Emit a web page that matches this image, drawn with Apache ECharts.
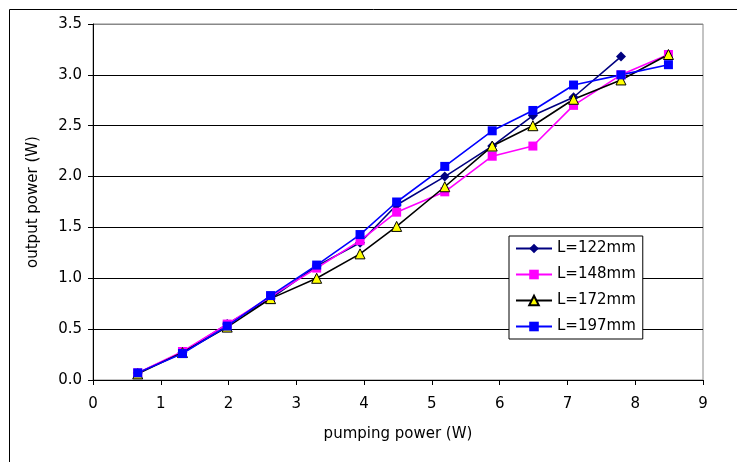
<!DOCTYPE html>
<html><head><meta charset="utf-8">
<script src="https://cdn.jsdelivr.net/npm/echarts@6/dist/echarts.min.js"></script>
<style>html,body{margin:0;padding:0;background:#fff}#c{width:737px;height:462px}</style>
</head><body><div id="c"></div>
<script>
const xPump = [0.66, 1.32, 1.98, 2.62, 3.30, 3.94, 4.48, 5.19, 5.89, 6.49, 7.09, 7.79, 8.49];
const seriesNames = ['L=122mm', 'L=148mm', 'L=172mm', 'L=197mm'];
const outL122 = [0.07, 0.27, 0.55, 0.80, 1.12, 1.35, 1.72, 2.00, 2.30, 2.60, 2.78, 3.18];
const outL148 = [0.07, 0.28, 0.55, 0.82, 1.10, 1.37, 1.65, 1.85, 2.20, 2.30, 2.70, 3.00, 3.20];
const outL172 = [0.06, 0.27, 0.52, 0.80, 1.00, 1.24, 1.51, 1.90, 2.30, 2.50, 2.76, 2.95, 3.20];
const outL197 = [0.07, 0.26, 0.53, 0.83, 1.13, 1.43, 1.75, 2.10, 2.45, 2.65, 2.90, 3.00, 3.10];

const pair = arr => arr.map((v, i) => [xPump[i], v]);
const font = 'DejaVu Sans, Liberation Sans, sans-serif';
const chart = echarts.init(document.getElementById('c'));
const mk = (name, data, lineColor, symbol, fill, border, size) => ({
  name, type: 'line', data: pair(data), symbol, symbolSize: size,
  lineStyle: { color: lineColor, width: 1.6 },
  itemStyle: { color: fill, borderColor: border, borderWidth: border === fill ? 0 : 1 },
  animation: false
});
chart.setOption({
  animation: false,
  backgroundColor: '#fff',
  graphic: [{ type: 'rect', shape: { x: 9.5, y: 9.5, width: 760, height: 480 },
    style: { fill: 'none', stroke: '#000', lineWidth: 1 }, z: 0 }],
  grid: { left: 93, right: 34, top: 24, bottom: 82, show: true, borderColor: '#888', borderWidth: 1 },
  legend: {
    orient: 'vertical', left: 509, top: 236,
    data: seriesNames,
    borderColor: '#000', borderWidth: 1, padding: [5, 7, 5, 6],
    itemWidth: 36, itemHeight: 12, itemGap: 11,
    textStyle: { fontFamily: font, fontSize: 15, color: '#000' },
    backgroundColor: '#fff'
  },
  xAxis: {
    type: 'value', min: 0, max: 9, interval: 1,
    name: 'pumping power (W)', nameLocation: 'middle', nameGap: 47,
    nameTextStyle: { fontFamily: font, fontSize: 15, color: '#000' },
    axisLine: { lineStyle: { color: '#000', width: 1 } },
    axisTick: { show: true, length: 5, lineStyle: { color: '#000' } },
    axisLabel: { fontFamily: font, fontSize: 15, color: '#000', margin: 17 },
    splitLine: { show: false }
  },
  yAxis: {
    type: 'value', min: 0, max: 3.5, interval: 0.5,
    name: 'output power (W)', nameLocation: 'middle', nameGap: 52,
    nameTextStyle: { fontFamily: font, fontSize: 15, color: '#000' },
    axisLine: { show: true, lineStyle: { color: '#000', width: 1 } },
    axisTick: { show: true, length: 5, lineStyle: { color: '#000' } },
    axisLabel: { fontFamily: font, fontSize: 15, color: '#000', margin: 11,
      formatter: v => v.toFixed(1) },
    splitLine: { show: true, lineStyle: { color: ['#000','#000','#000','#000','#000','#000','#000','#888'], width: 1 } }
  },
  series: [
    mk(seriesNames[0], outL122, '#000080', 'diamond', '#000080', '#000080', 10),
    mk(seriesNames[1], outL148, '#ff00ff', 'rect', '#ff00ff', '#ff00ff', 9),
    mk(seriesNames[2], outL172, '#000000', 'triangle', '#ffff00', '#000000', 10),
    mk(seriesNames[3], outL197, '#0000ff', 'rect', '#0000ff', '#0000ff', 9)
  ]
});
</script></body></html>
